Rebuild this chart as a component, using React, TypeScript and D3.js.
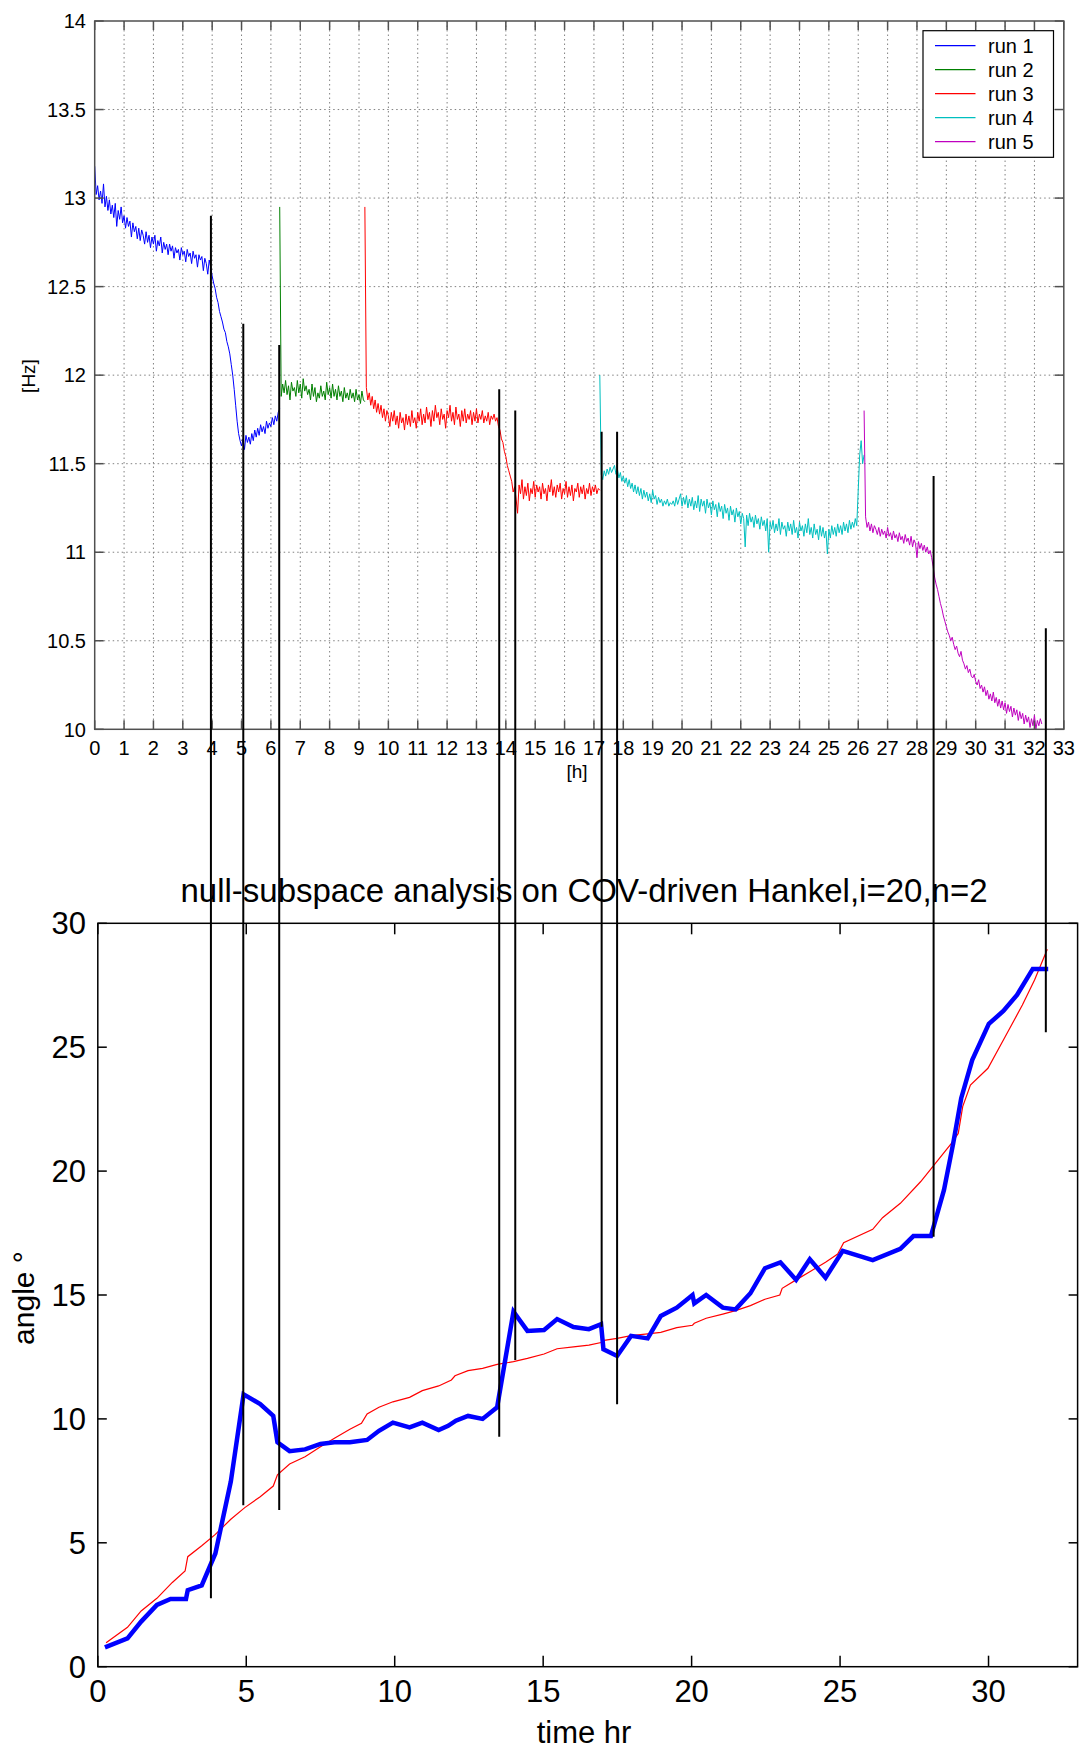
import React from 'react';
import * as d3 from 'd3';

const W = 1081;
const H = 1751;
const FONT = '"Liberation Sans", Arial, Helvetica, sans-serif';

// ---- top panel: identified frequency per run, one sample every 0.05 h ----
const runNames = ['run 1', 'run 2', 'run 3', 'run 4', 'run 5'];
const runColors = ['#0000ff', '#008000', '#ff0000', '#00bfbf', '#bf00bf'];
const runStartHour = [0, 6.3, 9.2, 17.2, 26.2];
const sampleStep = 0.05;

const run1Hz = [
  13.18, 13.02, 13.07, 12.99, 13.04, 12.97, 13.08, 12.95, 13.01, 12.93,
  12.99, 12.91, 12.96, 12.89, 12.97, 12.84, 12.93, 12.88, 12.95, 12.86,
  12.9, 12.83, 12.89, 12.84, 12.87, 12.78, 12.86, 12.81, 12.84, 12.77,
  12.83, 12.76, 12.82, 12.79, 12.74, 12.81, 12.75, 12.79, 12.72, 12.78,
  12.74, 12.79, 12.7, 12.76, 12.73, 12.78, 12.69, 12.75, 12.71, 12.74,
  12.68, 12.74, 12.7, 12.73, 12.66, 12.72, 12.69, 12.71, 12.65, 12.72,
  12.68, 12.7, 12.64, 12.71, 12.67, 12.69, 12.63, 12.7, 12.66, 12.68,
  12.61, 12.68, 12.65, 12.67, 12.59, 12.66, 12.63, 12.57, 12.65, 12.61,
  12.56, 12.52, 12.49, 12.44, 12.41, 12.36, 12.33, 12.3, 12.26, 12.24,
  12.19, 12.16, 12.12, 12.06, 12.0, 11.92, 11.83, 11.74, 11.67, 11.63,
  11.6, 11.64, 11.58, 11.66, 11.62, 11.65, 11.61, 11.67, 11.63, 11.69,
  11.65, 11.7, 11.66, 11.72, 11.68, 11.71, 11.67, 11.74, 11.7, 11.73,
  11.71, 11.76, 11.72, 11.77, 11.74, 11.79, 11.81,
];
const run2Hz = [
  12.95, 11.88, 11.95, 11.9, 11.97, 11.89, 11.94, 11.86, 11.96, 11.91,
  11.93, 11.88, 11.97, 11.9, 11.95, 11.87, 11.98, 11.91, 11.94, 11.89,
  11.92, 11.86, 11.95, 11.88, 11.93, 11.85, 11.9, 11.87, 11.94, 11.88,
  11.91, 11.86, 11.96, 11.89, 11.93, 11.87, 11.95, 11.88, 11.92, 11.86,
  11.94, 11.88, 11.91, 11.85, 11.93, 11.87, 11.9, 11.86, 11.92, 11.87,
  11.9, 11.85, 11.92, 11.86, 11.89, 11.84, 11.91, 11.86, 11.85,
];
const run3Hz = [
  12.95, 11.93, 11.86, 11.9, 11.83, 11.88, 11.81, 11.86, 11.79, 11.84,
  11.78, 11.83, 11.76, 11.81, 11.74, 11.8, 11.77, 11.71, 11.79, 11.74,
  11.8, 11.72, 11.77, 11.7, 11.79, 11.73, 11.76, 11.69, 11.78, 11.72,
  11.77, 11.71, 11.8, 11.73, 11.76, 11.7, 11.79, 11.74, 11.81, 11.72,
  11.78, 11.73, 11.82, 11.75, 11.79, 11.71, 11.8, 11.74, 11.83, 11.76,
  11.79, 11.72, 11.81, 11.75, 11.78, 11.7, 11.8, 11.76, 11.83, 11.74,
  11.79, 11.72, 11.82, 11.75, 11.78, 11.71, 11.8, 11.74, 11.81, 11.73,
  11.78, 11.75, 11.8, 11.72, 11.79, 11.74, 11.81, 11.73, 11.78, 11.75,
  11.8, 11.73, 11.77, 11.74, 11.79, 11.72, 11.77, 11.75, 11.78, 11.74,
  11.76, 11.71, 11.69, 11.64, 11.62, 11.57, 11.54, 11.49, 11.46, 11.43,
  11.4, 11.34, 11.37, 11.3, 11.22, 11.38, 11.33, 11.41, 11.3, 11.37,
  11.32, 11.39, 11.29, 11.36, 11.33, 11.4, 11.31, 11.38, 11.34, 11.37,
  11.3, 11.39, 11.33, 11.36, 11.29, 11.38, 11.34, 11.41, 11.32, 11.37,
  11.31, 11.38, 11.34, 11.39, 11.3, 11.36, 11.33, 11.4, 11.31, 11.37,
  11.32, 11.38, 11.29, 11.36, 11.34, 11.39, 11.31, 11.37, 11.33, 11.38,
  11.3, 11.36, 11.33, 11.39, 11.32, 11.37, 11.34, 11.38, 11.33, 11.36,
  11.35,
];
const run4Hz = [
  12.0, 11.44, 11.41, 11.46, 11.43, 11.47, 11.44, 11.48, 11.45, 11.47,
  11.49, 11.44, 11.47, 11.42, 11.45, 11.4, 11.43, 11.39, 11.42, 11.37,
  11.41, 11.36, 11.39, 11.34, 11.38, 11.33, 11.37, 11.32, 11.36, 11.3,
  11.35, 11.31, 11.34, 11.29, 11.33, 11.28, 11.35, 11.3, 11.32, 11.27,
  11.31, 11.28, 11.3, 11.26, 11.29, 11.27, 11.3, 11.26, 11.28, 11.27,
  11.29, 11.26, 11.31, 11.27, 11.3, 11.33, 11.26, 11.31, 11.27, 11.32,
  11.25, 11.3, 11.26, 11.31, 11.24, 11.29, 11.25, 11.32, 11.23, 11.3,
  11.26, 11.29, 11.22, 11.3, 11.25, 11.28, 11.21, 11.29, 11.24, 11.27,
  11.2, 11.28, 11.23, 11.26, 11.19, 11.27, 11.22, 11.25, 11.18, 11.26,
  11.21, 11.24, 11.17, 11.25, 11.2, 11.23, 11.16, 11.22, 11.19, 11.03,
  11.21, 11.15, 11.22, 11.17, 11.2, 11.14, 11.21, 11.16, 11.19, 11.13,
  11.2, 11.15, 11.18, 11.12, 11.19, 11.0, 11.17, 11.13, 11.18, 11.11,
  11.16, 11.12, 11.19, 11.1, 11.17, 11.13, 11.15, 11.09, 11.17, 11.12,
  11.16, 11.1, 11.18, 11.11, 11.14, 11.08, 11.17, 11.12, 11.15, 11.09,
  11.16, 11.11, 11.19, 11.1, 11.14, 11.08, 11.16, 11.1, 11.13, 11.07,
  11.15, 11.09, 11.14, 11.08, 11.12, 10.99, 11.13, 11.08, 11.15, 11.1,
  11.14, 11.09, 11.16, 11.11, 11.15, 11.1, 11.17, 11.12, 11.16, 11.11,
  11.18, 11.13, 11.17, 11.14, 11.19, 11.15, 11.35, 11.55, 11.63, 11.5,
  11.55,
];
const run5Hz = [
  11.8, 11.2, 11.14, 11.17, 11.12, 11.16, 11.11, 11.15, 11.13, 11.1,
  11.14, 11.09, 11.13, 11.1, 11.12, 11.08, 11.14, 11.09, 11.11, 11.07,
  11.12, 11.08, 11.1, 11.06, 11.11, 11.07, 11.09, 11.05, 11.1, 11.06,
  11.08, 11.04, 11.09, 11.03, 11.07, 11.05, 10.97, 11.06, 11.02, 11.05,
  11.01, 11.04, 11.0, 11.03, 10.99, 11.01, 10.97, 10.92, 10.86, 10.82,
  10.79, 10.75, 10.71, 10.68, 10.64, 10.61, 10.58, 10.55, 10.53, 10.5,
  10.52, 10.48, 10.45, 10.47, 10.43, 10.41, 10.44, 10.39, 10.37, 10.34,
  10.36, 10.32, 10.34, 10.3, 10.29, 10.31, 10.27, 10.25, 10.28, 10.23,
  10.25, 10.21, 10.24, 10.19, 10.22, 10.17, 10.2, 10.16, 10.21, 10.15,
  10.18, 10.13, 10.17, 10.12, 10.16, 10.11, 10.15, 10.09, 10.14, 10.1,
  10.13, 10.07, 10.12, 10.08, 10.11, 10.05, 10.1, 10.06, 10.09, 10.03,
  10.08, 10.04, 10.07, 10.01, 10.06, 10.02, 10.08, 10.0, 10.05, 10.02,
  10.06, 10.03,
];
const runHz = [run1Hz, run2Hz, run3Hz, run4Hz, run5Hz];

const hzTicks = [10, 10.5, 11, 11.5, 12, 12.5, 13, 13.5, 14];
const hourTicks = d3.range(0, 34);

// ---- bottom panel: null-subspace angle ----
const blueTime = [
  0.24, 1.0, 1.46, 1.99, 2.45, 2.97, 3.03, 3.5, 3.96, 4.48, 4.91, 5.47, 5.91,
  6.05, 6.46, 6.98, 7.5, 7.97, 8.49, 9.07, 9.47, 9.94, 10.5, 10.93, 11.48,
  11.8, 12.06, 12.47, 12.96, 13.45, 14.0, 14.47, 15.03, 15.47, 16.02, 16.54,
  16.95, 17.03, 17.49, 17.96, 18.52, 18.96, 19.5, 20.03, 20.09, 20.49, 21.05,
  21.48, 21.98, 22.47, 22.99, 23.52, 23.98, 24.51, 25.09, 26.1, 27.03, 27.47,
  28.06, 28.5, 28.81, 29.08, 29.45, 30.01, 30.5, 30.96, 31.49, 32.01,
];
const blueAngle = [
  0.78, 1.14, 1.82, 2.49, 2.73, 2.73, 3.09, 3.28, 4.57, 7.47, 10.99, 10.6,
  10.12, 9.06, 8.7, 8.77, 8.99, 9.06, 9.06, 9.15, 9.52, 9.85, 9.66, 9.85, 9.55,
  9.72, 9.93, 10.12, 10.0, 10.47, 14.33, 13.55, 13.59, 14.03, 13.71, 13.62,
  13.82, 12.81, 12.54, 13.35, 13.25, 14.15, 14.49, 15.0, 14.66, 15.0, 14.49,
  14.42, 15.07, 16.08, 16.32, 15.61, 16.44, 15.7, 16.78, 16.41, 16.86, 17.38,
  17.38, 19.24, 21.12, 22.94, 24.48, 25.94, 26.46, 27.11, 28.16, 28.16,
];
const redTime = [
  0.28, 1.0, 1.46, 1.99, 2.51, 2.94, 3.03, 3.5, 3.96, 4.48, 4.95, 5.47, 5.91,
  6.05, 6.46, 6.98, 7.5, 7.97, 8.49, 8.88, 9.07, 9.47, 9.94, 10.5, 10.93,
  11.48, 11.91, 12.03, 12.47, 12.96, 13.45, 14.0, 14.47, 15.03, 15.47, 16.02,
  16.54, 16.95, 17.0, 17.49, 17.96, 18.52, 18.96, 19.5, 20.03, 20.09, 20.49,
  21.05, 21.48, 21.98, 22.47, 22.97, 23.05, 23.52, 23.98, 24.51, 24.92, 25.12,
  26.1, 26.43, 27.03, 27.71, 28.17, 28.75, 28.98, 29.13, 29.39, 29.98, 30.56,
  31.14, 31.55, 31.98,
];
const redAngle = [
  0.97, 1.59, 2.25, 2.76, 3.4, 3.86, 4.44, 4.88, 5.34, 5.95, 6.42, 6.86, 7.29,
  7.74, 8.18, 8.47, 8.88, 9.22, 9.58, 9.82, 10.2, 10.47, 10.69, 10.87, 11.14,
  11.33, 11.57, 11.74, 11.95, 12.04, 12.2, 12.31, 12.44, 12.62, 12.83, 12.91,
  12.98, 13.08, 13.16, 13.25, 13.36, 13.43, 13.49, 13.68, 13.78, 13.86, 14.06,
  14.23, 14.37, 14.57, 14.83, 15.0, 15.27, 15.61, 15.94, 16.32, 16.65, 17.11,
  17.65, 18.12, 18.7, 19.57, 20.25, 21.12, 21.52, 22.6, 23.47, 24.15, 25.42,
  26.7, 27.71, 28.95,
];
const angleTicks = [0, 5, 10, 15, 20, 25, 30];
const timeTicks = [0, 5, 10, 15, 20, 25, 30];

// ---- black event markers crossing both panels ----
const eventHour = [3.81, 4.9, 6.11, 13.52, 14.06, 16.97, 17.49, 28.15, 31.93];
const eventTopHz = [12.9, 12.29, 12.17, 11.92, 11.8, 11.68, 11.68, 11.43, 10.57];
const eventBottomAngle = [2.76, 6.52, 6.32, 9.28, 12.38, 13.72, 10.59, 17.35, 25.6];

export default function App() {
  const xTop = d3.scaleLinear().domain([0, 33]).range([94.7, 1063.8]);
  const yTop = d3.scaleLinear().domain([10, 14]).range([729.3, 21]);
  const xBot = d3.scaleLinear().domain([0, 33]).range([97.8, 1077.6]);
  const yBot = d3.scaleLinear().domain([0, 30]).range([1666.7, 923.3]);

  const topLine = d3.line<[number, number]>()
    .x(d => xTop(d[0]))
    .y(d => yTop(d[1]));
  const botLine = d3.line<[number, number]>()
    .x(d => xBot(d[0]))
    .y(d => yBot(d[1]));

  const runPaths = runHz.map((vals, r) =>
    topLine(vals.map((v, i) => [runStartHour[r] + i * sampleStep, v] as [number, number]))
  );
  const bluePath = botLine(blueTime.map((t, i) => [t, blueAngle[i]] as [number, number]));
  const redPath = botLine(redTime.map((t, i) => [t, redAngle[i]] as [number, number]));

  const [tx0, tx1] = xTop.range();
  const [ty1, ty0] = yTop.range();
  const [bx0, bx1] = xBot.range();
  const [by1, by0] = yBot.range();
  const tick = 9;

  return (
    <svg width={W} height={H} style={{ position: 'absolute', left: 0, top: 0, background: '#fff' }}
      fontFamily={FONT}>
      <rect width={W} height={H} fill="#fff" />

      {/* top panel grid */}
      <g stroke="#808080" strokeWidth={1} strokeDasharray="1.5,3">
        {hourTicks.slice(1, -1).map(h => (
          <line key={'gv' + h} x1={xTop(h)} x2={xTop(h)} y1={ty0} y2={ty1} />
        ))}
        {hzTicks.slice(1, -1).map(v => (
          <line key={'gh' + v} x1={tx0} x2={tx1} y1={yTop(v)} y2={yTop(v)} />
        ))}
      </g>

      {/* top panel series */}
      {runPaths.map((p, r) => (
        <path key={'run' + r} d={p || ''} fill="none" stroke={runColors[r]} strokeWidth={1} />
      ))}

      {/* top panel frame + ticks */}
      <g stroke="#505050" strokeWidth={1.5}>
        <rect x={tx0} y={ty0} width={tx1 - tx0} height={ty1 - ty0} fill="none" />
        {hourTicks.map(h => (
          <g key={'tt' + h}>
            <line x1={xTop(h)} x2={xTop(h)} y1={ty1} y2={ty1 - tick} />
            <line x1={xTop(h)} x2={xTop(h)} y1={ty0} y2={ty0 + tick} />
          </g>
        ))}
        {hzTicks.map(v => (
          <g key={'ty' + v}>
            <line x1={tx0} x2={tx0 + tick} y1={yTop(v)} y2={yTop(v)} />
            <line x1={tx1} x2={tx1 - tick} y1={yTop(v)} y2={yTop(v)} />
          </g>
        ))}
      </g>
      <g fontSize={20} fill="#000">
        {hourTicks.map(h => (
          <text key={'tl' + h} x={xTop(h)} y={755} textAnchor="middle">{h}</text>
        ))}
        {hzTicks.map(v => (
          <text key={'yl' + v} x={86} y={yTop(v)} dy="0.36em" textAnchor="end">{v}</text>
        ))}
      </g>
      <text x={577} y={778} fontSize={19} textAnchor="middle">[h]</text>
      <text transform="translate(35,376) rotate(-90)" fontSize={19} textAnchor="middle">[Hz]</text>

      {/* legend */}
      <g>
        <rect x={923} y={30.7} width={130.5} height={126.6} fill="#fff" stroke="#000" strokeWidth={1.2} />
        {runNames.map((n, i) => {
          const yy = 45.7 + i * 24;
          return (
            <g key={'lg' + i}>
              <line x1={935} x2={975.5} y1={yy} y2={yy} stroke={runColors[i]} strokeWidth={1.2} />
              <text x={988} y={yy} dy="0.36em" fontSize={20}>{n}</text>
            </g>
          );
        })}
      </g>

      {/* bottom panel */}
      <text x={584} y={902} fontSize={33} textAnchor="middle">
        null-subspace analysis on COV-driven Hankel,i=20,n=2
      </text>
      <path d={redPath || ''} fill="none" stroke="#ff0000" strokeWidth={1.2} />
      <path d={bluePath || ''} fill="none" stroke="#0000ff" strokeWidth={4.5} strokeLinejoin="miter" />
      <g stroke="#000" strokeWidth={1.5}>
        <rect x={bx0} y={by0} width={bx1 - bx0} height={by1 - by0} fill="none" />
        {timeTicks.map(t => (
          <g key={'bt' + t}>
            <line x1={xBot(t)} x2={xBot(t)} y1={by1} y2={by1 - 11} />
            <line x1={xBot(t)} x2={xBot(t)} y1={by0} y2={by0 + 11} />
          </g>
        ))}
        {angleTicks.map(a => (
          <g key={'ba' + a}>
            <line x1={bx0} x2={bx0 + 9} y1={yBot(a)} y2={yBot(a)} />
            <line x1={bx1} x2={bx1 - 9} y1={yBot(a)} y2={yBot(a)} />
          </g>
        ))}
      </g>
      <g fontSize={31} fill="#000">
        {timeTicks.map(t => (
          <text key={'bl' + t} x={xBot(t)} y={1702} textAnchor="middle">{t}</text>
        ))}
        {angleTicks.map(a => (
          <text key={'al' + a} x={86} y={yBot(a)} dy="0.36em" textAnchor="end">{a}</text>
        ))}
      </g>
      <text x={584} y={1743} fontSize={31} textAnchor="middle">time hr</text>
      <text transform="translate(34,1298) rotate(-90)" fontSize={30} textAnchor="middle">angle °</text>

      {/* event markers across both panels */}
      <g stroke="#000" strokeWidth={2}>
        {eventHour.map((h, i) => (
          <line key={'ev' + i} x1={xBot(h)} x2={xBot(h)} y1={yTop(eventTopHz[i])} y2={yBot(eventBottomAngle[i])} />
        ))}
      </g>
    </svg>
  );
}
